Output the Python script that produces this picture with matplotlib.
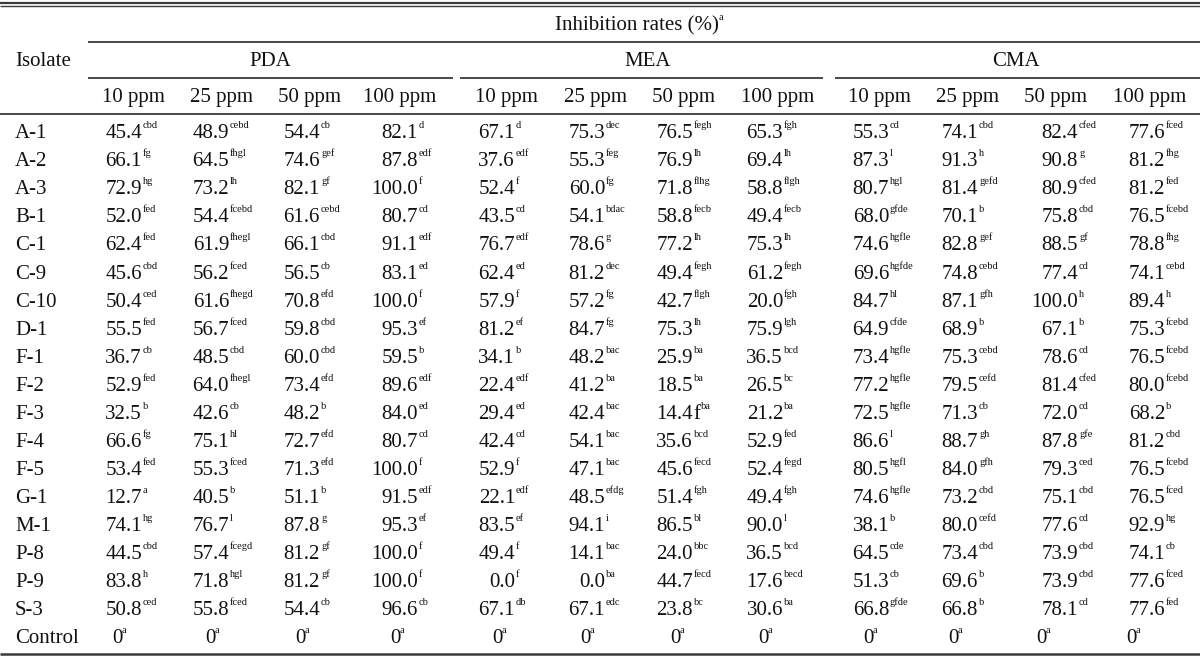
import matplotlib
matplotlib.use("Agg")
import matplotlib.pyplot as plt

isolates = ["A-1", "A-2", "A-3", "B-1", "C-1", "C-9", "C-10", "D-1", "F-1", "F-2",
            "F-3", "F-4", "F-5", "G-1", "M-1", "P-8", "P-9", "S-3", "Control"]
media = ["PDA", "MEA", "CMA"]
doses = ["10 ppm", "25 ppm", "50 ppm", "100 ppm"]

pda_10 = ["45.4", "66.1", "72.9", "52.0", "62.4", "45.6", "50.4", "55.5", "36.7", "52.9",
          "32.5", "66.6", "53.4", "12.7", "74.1", "44.5", "83.8", "50.8", "0"]
pda_10_sig = ["cbd", "fg", "hg", "fed", "fed", "cbd", "ced", "fed", "cb", "fed",
              "b", "fg", "fed", "a", "hg", "cbd", "h", "ced", "a"]
pda_25 = ["48.9", "64.5", "73.2", "54.4", "61.9", "56.2", "61.6", "56.7", "48.5", "64.0",
          "42.6", "75.1", "55.3", "40.5", "76.7", "57.4", "71.8", "55.8", "0"]
pda_25_sig = ["cebd", "fhgl", "lh", "fcebd", "fhegl", "fced", "fhegd", "fced", "cbd", "fhegl",
              "cb", "hl", "fced", "b", "l", "fcegd", "hgl", "fced", "a"]
pda_50 = ["54.4", "74.6", "82.1", "61.6", "66.1", "56.5", "70.8", "59.8", "60.0", "73.4",
          "48.2", "72.7", "71.3", "51.1", "87.8", "81.2", "81.2", "54.4", "0"]
pda_50_sig = ["cb", "gef", "gf", "cebd", "cbd", "cb", "efd", "cbd", "cbd", "efd",
              "b", "efd", "efd", "b", "g", "gf", "gf", "cb", "a"]
pda_100 = ["82.1", "87.8", "100.0", "80.7", "91.1", "83.1", "100.0", "95.3", "59.5", "89.6",
           "84.0", "80.7", "100.0", "91.5", "95.3", "100.0", "100.0", "96.6", "0"]
pda_100_sig = ["d", "edf", "f", "cd", "edf", "ed", "f", "ef", "b", "edf",
               "ed", "cd", "f", "edf", "ef", "f", "f", "cb", "a"]

mea_10 = ["67.1", "37.6", "52.4", "43.5", "76.7", "62.4", "57.9", "81.2", "34.1", "22.4",
          "29.4", "42.4", "52.9", "22.1", "83.5", "49.4", "0.0", "67.1", "0"]
mea_10_sig = ["d", "edf", "f", "cd", "edf", "ed", "f", "ef", "b", "edf",
              "ed", "cd", "f", "edf", "ef", "f", "f", "db", "a"]
mea_25 = ["75.3", "55.3", "60.0", "54.1", "78.6", "81.2", "57.2", "84.7", "48.2", "41.2",
          "42.4", "54.1", "47.1", "48.5", "94.1", "14.1", "0.0", "67.1", "0"]
mea_25_sig = ["dec", "feg", "fg", "bdac", "g", "dec", "fg", "fg", "bac", "ba",
              "bac", "bac", "bac", "efdg", "i", "bac", "ba", "edc", "a"]
mea_50 = ["76.5", "76.9", "71.8", "58.8", "77.2", "49.4", "42.7", "75.3", "25.9", "18.5",
          "14.4f", "35.6", "45.6", "51.4", "86.5", "24.0", "44.7", "23.8", "0"]
mea_50_sig = ["fegh", "lh", "flhg", "fecb", "lh", "fegh", "flgh", "lh", "ba", "ba",
              "ba", "bcd", "fecd", "fgh", "bl", "bbc", "fecd", "bc", "a"]
mea_100 = ["65.3", "69.4", "58.8", "49.4", "75.3", "61.2", "20.0", "75.9", "36.5", "26.5",
           "21.2", "52.9", "52.4", "49.4", "90.0", "36.5", "17.6", "30.6", "0"]
mea_100_sig = ["fgh", "lh", "flgh", "fecb", "lh", "fegh", "fgh", "lgh", "bcd", "bc",
               "ba", "fed", "fegd", "fgh", "l", "bcd", "becd", "ba", "a"]

cma_10 = ["55.3", "87.3", "80.7", "68.0", "74.6", "69.6", "84.7", "64.9", "73.4", "77.2",
          "72.5", "86.6", "80.5", "74.6", "38.1", "64.5", "51.3", "66.8", "0"]
cma_10_sig = ["cd", "l", "hgl", "gfde", "hgfle", "hgfde", "hl", "cfde", "hgfle", "hgfle",
              "hgfle", "l", "hgfl", "hgfle", "b", "cde", "cb", "gfde", "a"]
cma_25 = ["74.1", "91.3", "81.4", "70.1", "82.8", "74.8", "87.1", "68.9", "75.3", "79.5",
          "71.3", "88.7", "84.0", "73.2", "80.0", "73.4", "69.6", "66.8", "0"]
cma_25_sig = ["cbd", "h", "gefd", "b", "gef", "cebd", "gfh", "b", "cebd", "cefd",
              "cb", "gh", "gfh", "cbd", "cefd", "cbd", "b", "b", "a"]
cma_50 = ["82.4", "90.8", "80.9", "75.8", "88.5", "77.4", "100.0", "67.1", "78.6", "81.4",
          "72.0", "87.8", "79.3", "75.1", "77.6", "73.9", "73.9", "78.1", "0"]
cma_50_sig = ["cfed", "g", "cfed", "cbd", "gf", "cd", "h", "b", "cd", "cfed",
              "cd", "gfe", "ced", "cbd", "cd", "cbd", "cbd", "cd", "a"]
cma_100 = ["77.6", "81.2", "81.2", "76.5", "78.8", "74.1", "89.4", "75.3", "76.5", "80.0",
           "68.2", "81.2", "76.5", "76.5", "92.9", "74.1", "77.6", "77.6", "0"]
cma_100_sig = ["fced", "fhg", "fed", "fcebd", "fhg", "cebd", "h", "fcebd", "fcebd", "fcebd",
               "b", "cbd", "fcebd", "fced", "hg", "cb", "fced", "fed", "a"]

columns = [(pda_10, pda_10_sig), (pda_25, pda_25_sig), (pda_50, pda_50_sig), (pda_100, pda_100_sig),
           (mea_10, mea_10_sig), (mea_25, mea_25_sig), (mea_50, mea_50_sig), (mea_100, mea_100_sig),
           (cma_10, cma_10_sig), (cma_25, cma_25_sig), (cma_50, cma_50_sig), (cma_100, cma_100_sig)]

# ---------------- layout (pixel coordinates) ----------------
W, H = 1200, 658
FONT = "Liberation Serif"
FS = 15
SFS = 7.5
TXT = "#111111"
LINE = "#3a3a3a"

num_right = [142, 229, 320, 418, 515, 605, 693, 783, 889, 978, 1078, 1165]
ctrl_center = [117, 210, 300, 395, 497, 585, 675, 763, 868, 953, 1041, 1131]
head_center = [133, 221, 310, 400, 506, 596, 683, 778, 879, 968, 1056, 1150]
group_center = [270, 648, 1016]
group_span = [(88, 453), (460, 823), (835, 1200)]

row0 = 138.3
dy = 28.05
sup_rise = 10.0

fig = plt.figure(figsize=(W / 100, H / 100), dpi=100)
ax = fig.add_axes([0, 0, 1, 1])
ax.set_xlim(0, W)
ax.set_ylim(H, 0)
ax.axis("off")

def hline(y, x0, x1, lw=1.3):
    ax.plot([x0, x1], [y, y], color=LINE, lw=lw, solid_capstyle="butt")

# rules
hline(2.5, 0, W, lw=1.6)
hline(6.2, 0, W, lw=1.0)
hline(41.7, 88, W)
for x0, x1 in group_span:
    hline(77.7, x0, x1)
hline(114.2, 0, W)
hline(654.0, 0, W, lw=1.8)

# headers
ax.text(637, 30, "Inhibition rates (%)", ha="center", va="baseline",
        fontsize=FS, family=FONT, color=TXT)
ax.text(719, 30 - sup_rise, "a", ha="left", va="baseline",
        fontsize=SFS, family=FONT, color=TXT)
ax.text(15, 66, "Isolate", ha="left", va="baseline", fontsize=FS, family=FONT, color=TXT)
for name, xc in zip(media, group_center):
    ax.text(xc, 66, name, ha="center", va="baseline", fontsize=FS, family=FONT, color=TXT)
for j, xc in enumerate(head_center):
    ax.text(xc, 101.7, doses[j % 4], ha="center", va="baseline",
            fontsize=FS, family=FONT, color=TXT)

# body
for i, iso in enumerate(isolates):
    yb = row0 + i * dy
    ax.text(15, yb, iso, ha="left", va="baseline", fontsize=FS, family=FONT, color=TXT)
    for j, (vals, sigs) in enumerate(columns):
        v, s = vals[i], sigs[i]
        if iso == "Control":
            ax.text(ctrl_center[j], yb, v, ha="center", va="baseline",
                    fontsize=FS, family=FONT, color=TXT)
            ax.text(ctrl_center[j] + 5, yb - sup_rise, s, ha="left", va="baseline",
                    fontsize=SFS, family=FONT, color=TXT)
            continue
        xr = num_right[j]
        if v.endswith("f"):
            ax.text(xr, yb, v[:-1], ha="right", va="baseline",
                    fontsize=FS, family=FONT, color=TXT)
            ax.text(xr, yb, "f", ha="left", va="baseline",
                    fontsize=FS, family=FONT, color=TXT)
            ax.text(xr + 8, yb - sup_rise, s, ha="left", va="baseline",
                    fontsize=SFS, family=FONT, color=TXT)
        else:
            ax.text(xr, yb, v, ha="right", va="baseline",
                    fontsize=FS, family=FONT, color=TXT)
            ax.text(xr + 1, yb - sup_rise, s, ha="left", va="baseline",
                    fontsize=SFS, family=FONT, color=TXT)

fig.savefig("out.png", dpi=100)
